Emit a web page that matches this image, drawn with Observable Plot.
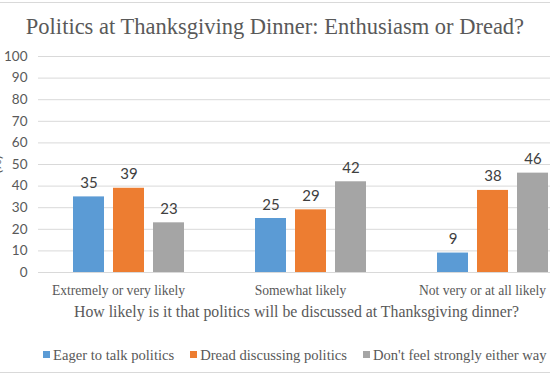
<!DOCTYPE html>
<html><head><meta charset="utf-8">
<script src="https://cdn.jsdelivr.net/npm/d3@7"></script>
<script src="https://cdn.jsdelivr.net/npm/@observablehq/plot@0.6"></script>
<style>
html,body{margin:0;padding:0;background:#fff;width:550px;height:377px;overflow:hidden;position:relative;}
.line{position:absolute;left:0;width:550px;height:1px;background:#d9d9d9;}
#title{position:absolute;left:0;top:16px;width:550px;text-align:center;font-family:"Liberation Serif",serif;font-size:22.5px;line-height:21px;color:#595959;white-space:nowrap;}
#chart{position:absolute;left:0;top:45px;}
#chart svg{max-width:none !important;overflow:visible;}
#legend{position:absolute;left:43px;top:345px;white-space:nowrap;font-family:"Liberation Serif",serif;font-size:14.6px;line-height:16px;color:#595959;}
.item{display:inline-flex;align-items:center;margin-right:16px;}
.sw{display:inline-block;width:7px;height:7px;margin-right:3px;}
</style>
</head><body>
<div class="line" style="top:2px"></div>
<div class="line" style="top:372px"></div>
<div id="title">Politics at Thanksgiving Dinner: Enthusiasm or Dread?</div>
<div id="chart"></div>
<div id="legend"></div>
<script>
const categories = ["Extremely or very likely", "Somewhat likely", "Not very or at all likely"];
const seriesNames = ["Eager to talk politics", "Dread discussing politics", "Don't feel strongly either way"];
const eager = [35, 25, 9];
const dread = [39, 29, 38];
const neutral = [23, 42, 46];
const yTicks = [0, 10, 20, 30, 40, 50, 60, 70, 80, 90, 100];
const colors = ["#5b9bd5", "#ed7d31", "#a5a5a5"];
const xTitle = "How likely is it that politics will be discussed at Thanksgiving dinner?";
const yTitle = "(%)";

const seriesValues = [eager, dread, neutral];
const data = [];
categories.forEach((c, i) => seriesNames.forEach((s, j) => data.push({category: c, series: s, value: seriesValues[j][i]})));

const serif = "'Liberation Serif', serif";
const sans = "Lato, 'Liberation Sans', sans-serif";

const chart = Plot.plot({
  width: 584,
  height: 287,
  marginLeft: 38,
  marginRight: 0,
  marginTop: 11,
  marginBottom: 60,
  style: {background: "#fff", overflow: "visible", maxWidth: "none"},
  fx: {domain: categories, padding: 0},
  x: {domain: seriesNames, paddingInner: 0.22, paddingOuter: 0.86, axis: null},
  y: {domain: [0, 100], axis: null},
  color: {domain: seriesNames, range: colors},
  marks: [
    Plot.ruleY(yTicks, {stroke: "#d9d9d9", strokeWidth: 1}),
    Plot.barY(data, {fx: "category", x: "series", y: "value", fill: "series"}),
    Plot.text(data, {fx: "category", x: "series", y: "value", text: d => String(d.value), dy: -9, lineAnchor: "bottom", fontSize: 15, fill: "#404040", fontFamily: sans}),
    Plot.axisY({ticks: yTicks, tickSize: 0, tickPadding: 11, fontSize: 13.5, fill: "#595959", fontFamily: sans,
      label: yTitle, labelAnchor: "center", labelOffset: 47, labelArrow: "none"}),
    Plot.axisFx({anchor: "bottom", tickSize: 0, tickPadding: 13, fontSize: 13.6, fill: "#595959", fontFamily: serif, dx: -11, label: null}),
    Plot.text([xTitle], {facet: "super", frameAnchor: "bottom", dx: -15, dy: 44, lineAnchor: "bottom", fontSize: 15.8, fill: "#595959", fontFamily: serif})
  ]
});
document.getElementById("chart").appendChild(chart);

const color = chart.scale("color");
const legendEl = document.getElementById("legend");
seriesNames.forEach(s => {
  const item = document.createElement("span");
  item.className = "item";
  const sw = document.createElement("span");
  sw.className = "sw";
  sw.style.background = color.apply(s);
  item.appendChild(sw);
  item.appendChild(document.createTextNode(s));
  legendEl.appendChild(item);
});
</script>
</body></html>
